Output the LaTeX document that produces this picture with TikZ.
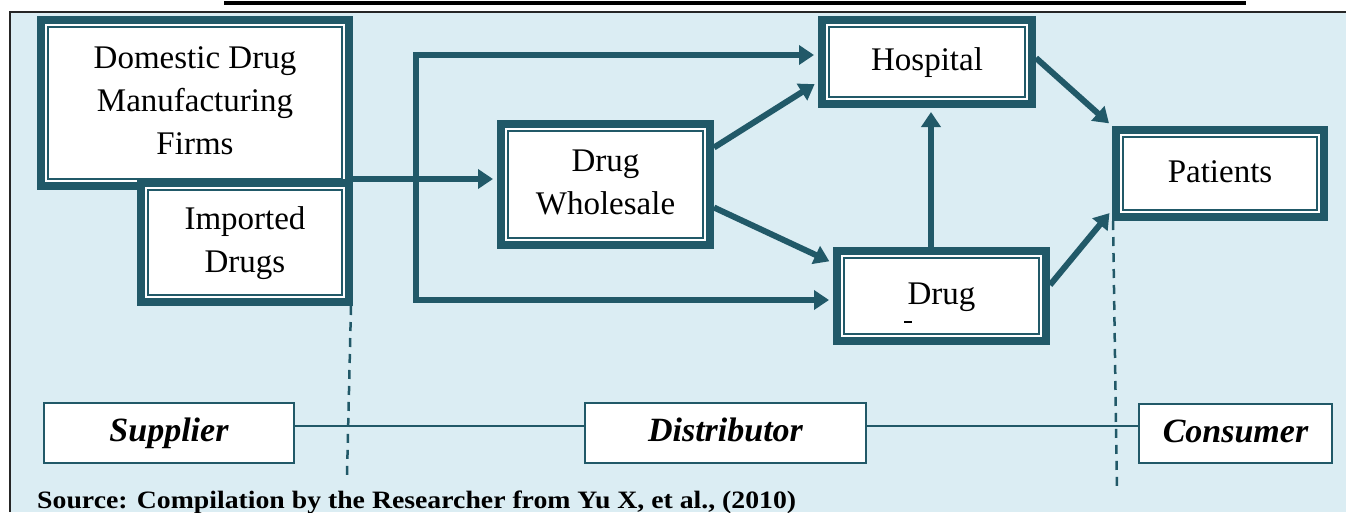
\documentclass[tikz,border=0pt]{standalone}
\usepackage{fontspec}
\setmainfont{Liberation Serif}
\usetikzlibrary{arrows.meta}
\definecolor{chain}{RGB}{33,89,104}
\definecolor{panel}{RGB}{219,237,243}
\pgfdeclarelayer{back}
\pgfdeclarelayer{wires}
\pgfsetlayers{back,wires,main}
% centred lines with a fixed baseline distance
\newcommand{\boxlines}[1]{\begin{tabular}{@{}c@{}}#1\end{tabular}}
\begin{document}
\begin{tikzpicture}[x=1pt,y=-1pt,
  framed/.style={draw=chain, line width=8pt, fill=white, inner sep=0pt,
    font=\fontsize{33}{43}\selectfont,
    path picture={\draw[chain,line width=2pt]
      ([shift={(7pt,-7pt)}]path picture bounding box.north west) rectangle
      ([shift={(-7pt,7pt)}]path picture bounding box.south east);}},
  role/.style={draw=chain, line width=2pt, fill=white, inner sep=0pt,
    font=\fontsize{34}{43}\selectfont\bfseries\itshape},
  flow/.style={draw=chain, line width=6pt, shorten >=4pt,
    -{Triangle[length=15pt,width=19pt]}},
  tie/.style={draw=chain, line width=2pt},
  divider/.style={draw=chain, line width=2.5pt, dash pattern=on 9pt off 7pt},
]
\useasboundingbox (0,0) rectangle (1346,512);

% panel behind the chart
\begin{pgfonlayer}{back}
  \fill[panel] (9.5,12.3) rectangle (1346,512);
  \draw[black!85, line width=2pt] (9.5,512) -- (9.5,12.3) -- (1346,12.3);
  \draw[black, line width=3.5pt] (224,3) -- (1246,3);
\end{pgfonlayer}

% actors of the supply chain
\node[framed, minimum width=308pt, minimum height=166pt] (dom) at (195,103) {\boxlines{Domestic Drug\\Manufacturing\\Firms}};
\node[framed, minimum width=208pt, minimum height=119pt] (imp) at (245,242.5) {\boxlines{Imported\\Drugs}};
\node[framed, minimum width=209pt, minimum height=121pt] (whole) at (605.5,184.5) {\boxlines{Drug\\Wholesale}};
\node[framed, minimum width=210pt, minimum height=84pt] (hosp) at (927,62) {\boxlines{Hospital}};
\node[framed, minimum width=208pt, minimum height=87pt] (pat) at (1220,173.5) {\boxlines{Patients}};
\node[framed, minimum width=209pt, minimum height=90pt] (store) at (941.5,296) {\boxlines{Drug}};
\draw[black, line width=1.5pt] (904,322) -- (912,322);

% roles
\node[role, minimum width=250pt, minimum height=60pt] (sup) at (169,433) {\boxlines{Supplier}};
\node[role, minimum width=281pt, minimum height=60pt] (dist) at (725.5,433) {\boxlines{Distributor}};
\node[role, minimum width=193pt, minimum height=59pt] (cons) at (1235.5,433.5) {\boxlines{Consumer}};

\node[anchor=base west, inner sep=0pt, font=\fontsize{25}{30}\selectfont\bfseries] (src) at (37,508)
  {\scalebox{1.11}[1]{Source: Compilation by the Researcher from Yu X, et al., (2010)}};

% flows
\begin{pgfonlayer}{wires}
  \coordinate (j) at ([xshift=63pt]imp.north east);
  \draw[flow] (imp.north east) -- (imp.north east -| whole.west);
  \draw[flow] (j) |- ([yshift=7pt]hosp.west);
  \draw[flow] (j) |- ([yshift=-4pt]store.west);
  \draw[flow] ([yshift=37pt]whole.east) -- ([yshift=-20pt]hosp.west);
  \draw[flow] ([yshift=-23pt]whole.east) -- ([yshift=33pt]store.west);
  \draw[flow] ([xshift=-10.5pt]store.north) -- ([xshift=-10.5pt]store.north |- hosp.south);
  \draw[flow] ([yshift=4pt]hosp.east) -- (pat.north west);
  \draw[flow] ([yshift=11pt]store.east) -- ([yshift=11pt]pat.south west);

  \draw[tie] ([yshift=7pt]sup.east) -- ([yshift=7pt]sup.east -| dist.west);
  \draw[tie] ([yshift=7pt]dist.east) -- ([yshift=7pt]dist.east -| cons.west);

  \coordinate (d1) at (347,476);
  \coordinate (d2) at (1117,492);
  \draw[divider] ([xshift=-2pt]imp.south east) -- (d1);
  \draw[divider] ([xshift=1pt]pat.south west) -- (d2);
\end{pgfonlayer}
\end{tikzpicture}
\end{document}
